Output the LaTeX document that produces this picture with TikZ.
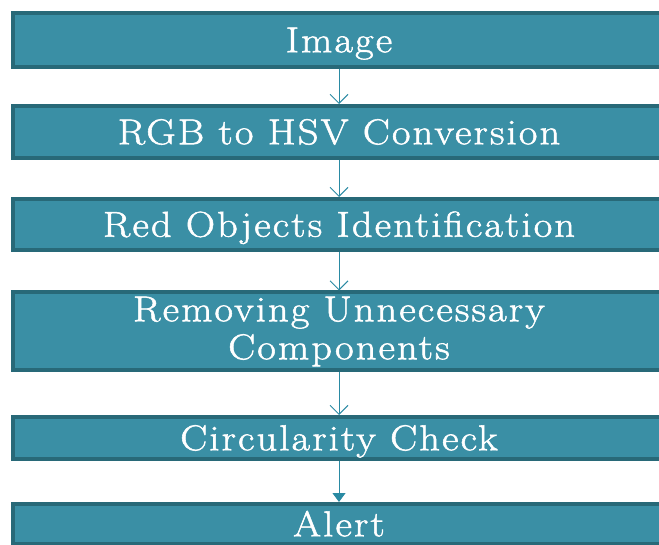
\documentclass[tikz,border=0pt]{standalone}
\usepackage{fontspec}
\setmainfont{Latin Modern Roman}[FakeStretch=1.12,LetterSpace=6,FakeBold=1.5]
\usetikzlibrary{arrows.meta}
\definecolor{boxfill}{HTML}{3A8FA5}
\definecolor{boxline}{HTML}{286978}
\definecolor{arrowcol}{HTML}{2A8AA3}
\tikzset{
  stepbox/.style={draw=boxline, fill=boxfill, line width=4pt, minimum width=652pt,
    text=white, font=\fontsize{36}{38}\selectfont, inner sep=0pt, anchor=center},
  oneline/.style={stepbox, text height=24.5pt, text depth=0pt},
  flowarrow/.style={draw=arrowcol, line width=1pt, -{Straight Barb[length=9pt,width=18pt,line width=1pt]}},
  lastarrow/.style={draw=arrowcol, line width=1pt, -{Triangle[length=9pt,width=13pt]}}
}
\begin{document}
\begin{tikzpicture}[x=1pt,y=1pt]
\useasboundingbox (0,0) rectangle (659,-545);
\clip (0,0) rectangle (659,-545);
\node[oneline, minimum height=54pt] (img) at (339,-40) {Image};
\node[oneline, minimum height=52pt] (rgb) at (339,-132) {RGB to HSV Conversion};
\node[oneline, minimum height=51pt] (red) at (339,-224.5) {Red Objects Identification};
\node[stepbox, align=center, minimum height=78pt] (rem) at (339,-331.5) {Removing Unnecessary\\Components};
\node[oneline, minimum height=42pt] (circ) at (339,-438) {Circularity Check};
\node[oneline, minimum height=40pt] (alert) at (339,-524) {Alert};
\draw[flowarrow] (img.south) -- (rgb.north);
\draw[flowarrow] (rgb.south) -- (red.north);
\draw[flowarrow] (red.south) -- (rem.north);
\draw[flowarrow] (rem.south) -- (circ.north);
\draw[lastarrow] (circ.south) -- (alert.north);
\end{tikzpicture}
\end{document}
